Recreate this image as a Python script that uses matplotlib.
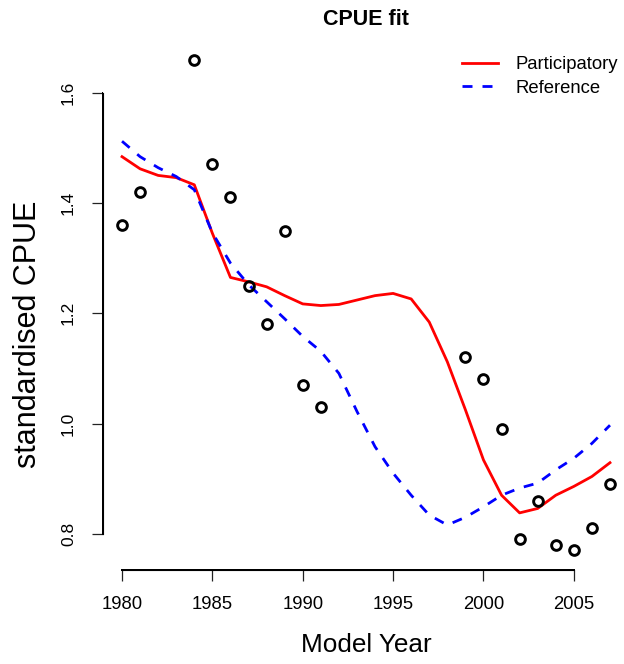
import matplotlib.pyplot as plt
from matplotlib.patches import Rectangle
import numpy as np

plt.rcParams['font.family'] = ['Liberation Sans', 'DejaVu Sans']

# observed standardised CPUE
obs_years = [1980, 1981, 1984, 1985, 1986, 1987, 1988, 1989, 1990, 1991,
             1999, 2000, 2001, 2002, 2003, 2004, 2005, 2006, 2007]
obs_cpue = [1.36, 1.42, 1.66, 1.47, 1.41, 1.25, 1.18, 1.35, 1.07, 1.03,
            1.12, 1.08, 0.99, 0.79, 0.86, 0.78, 0.77, 0.81, 0.89]

# model fits
years = list(range(1980, 2008))
participatory = [1.484, 1.462, 1.450, 1.446, 1.433, 1.345, 1.265, 1.257, 1.248, 1.232,
                 1.217, 1.214, 1.216, 1.224, 1.232, 1.236, 1.226, 1.184, 1.112, 1.025,
                 0.934, 0.870, 0.838, 0.846, 0.870, 0.886, 0.904, 0.929]
reference = [1.512, 1.484, 1.464, 1.448, 1.424, 1.346, 1.291, 1.252, 1.221, 1.190,
             1.158, 1.131, 1.091, 1.022, 0.958, 0.910, 0.870, 0.834, 0.816, 0.830,
             0.849, 0.870, 0.883, 0.892, 0.916, 0.937, 0.964, 0.997]

x_ticks = [1980, 1985, 1990, 1995, 2000, 2005]
y_ticks = [0.8, 1.0, 1.2, 1.4, 1.6]

W, H = 624, 664
fig = plt.figure(figsize=(W / 100, H / 100), dpi=100)
ax = fig.add_axes([102.5 / W, 94 / H, 527 / W, 530 / H])

# R style padding (4%)
xr = max(years) - min(years)
x0, x1 = min(years) - 0.04 * xr, max(years) + 0.04 * xr
yr = max(obs_cpue) - min(obs_cpue)
y0, y1 = min(obs_cpue) - 0.04 * yr, max(obs_cpue) + 0.04 * yr

ax.plot(obs_years, obs_cpue, 'o', mfc='none', mec='black', ms=7, mew=2.1, zorder=3)
ax.plot(years, participatory, color='red', lw=2, label='Participatory')
ax.plot(years, reference, color='blue', lw=2, linestyle=(0, (3.6, 3.6)), label='Reference')

ax.set_xlim(x0, x1)
ax.set_ylim(y0, y1)
ax.set_xticks(x_ticks)
ax.set_yticks(y_ticks)

# R style axes: lines only over the tick range
for s in ['top', 'right']:
    ax.spines[s].set_visible(False)
ax.spines['left'].set_bounds(y_ticks[0], y_ticks[-1])
ax.spines['bottom'].set_bounds(x_ticks[0], x_ticks[-1])

# thin filled bars on top, in case the spines get lost
to_fig = ax.transData + fig.transFigure.inverted()
bx = to_fig.transform([(x_ticks[0], y0), (x_ticks[-1], y0)])
ly = to_fig.transform([(x0, y_ticks[0]), (x0, y_ticks[-1])])
lw_x, lw_y = 1.4 / W, 1.4 / H
fig.add_artist(Rectangle((bx[0, 0] - lw_x / 2, bx[0, 1] - lw_y / 2),
                         bx[1, 0] - bx[0, 0] + lw_x, lw_y,
                         transform=fig.transFigure, facecolor='black',
                         edgecolor='none', zorder=10))
fig.add_artist(Rectangle((ly[0, 0] - lw_x / 2, ly[0, 1] - lw_y / 2),
                         lw_x, ly[1, 1] - ly[0, 1] + lw_y,
                         transform=fig.transFigure, facecolor='black',
                         edgecolor='none', zorder=10))

ax.tick_params(axis='both', direction='out', length=8, width=0.9, color='#222222')
ax.tick_params(axis='x', pad=11, labelsize=13.3)
ax.tick_params(axis='y', pad=11, labelsize=12.5, labelrotation=90)
for lab in ax.get_yticklabels():
    lab.set_va('center')

ax.set_title('CPUE fit', fontsize=15.5, fontweight='bold', pad=11)
ax.set_xlabel('Model Year', fontsize=18.8, labelpad=14)
ax.set_ylabel('standardised CPUE', fontsize=22)
ax.yaxis.set_label_coords(-0.113, 0.445)

ax.legend(loc='upper left', bbox_to_anchor=(462 / W, 1 - 56 / H),
          bbox_transform=fig.transFigure, frameon=False, fontsize=13.3,
          handlelength=1.95, handletextpad=0.92, labelspacing=0.37,
          borderpad=0, borderaxespad=0)

fig.savefig('out.png', dpi=100)
